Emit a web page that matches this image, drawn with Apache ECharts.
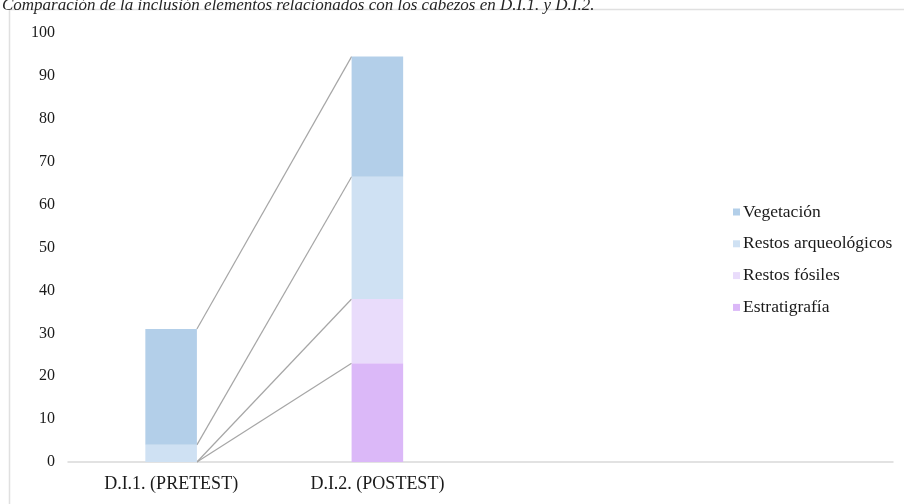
<!DOCTYPE html>
<html>
<head>
<meta charset="utf-8">
<script src="https://cdn.jsdelivr.net/npm/echarts@6/dist/echarts.min.js"></script>
<style>html,body{margin:0;padding:0;background:#fff}#c{width:904px;height:504px}</style>
</head>
<body>
<div id="c"></div>
<script>
var titleText = 'Comparación de la inclusión elementos relacionados con los cabezos en D.I.1. y D.I.2.';
var categories = ['D.I.1. (PRETEST)', 'D.I.2. (POSTEST)', '', ''];
var yTicks = [0, 10, 20, 30, 40, 50, 60, 70, 80, 90, 100];
var estratigrafia = [0, 23];
var restosFosiles = [0, 15];
var restosArqueologicos = [4, 28.5];
var vegetacion = [27, 28];
var seriesNames = ['Estratigrafía', 'Restos fósiles', 'Restos arqueológicos', 'Vegetación'];
var seriesValues = [estratigrafia, restosFosiles, restosArqueologicos, vegetacion];
var colors = ['#dbb8f8', '#e9dcfb', '#cfe1f3', '#b3cfe9'];

var chart = echarts.init(document.getElementById('c'));
var FONT = '"Liberation Serif", "Times New Roman", serif';

var cum = [0, 0];
var lineData = [];
seriesValues.forEach(function (vals) {
  cum = [cum[0] + vals[0], cum[1] + vals[1]];
  lineData.push([0, cum[0], 1, cum[1]]);
});

var series = seriesValues.map(function (vals, i) {
  return {
    name: seriesNames[i],
    type: 'bar',
    stack: 'total',
    barWidth: '25%',
    itemStyle: { color: colors[i] },
    data: vals,
    silent: true
  };
});

series.push({
  type: 'custom',
  silent: true,
  encode: { x: [0, 2], y: [1, 3] },
  data: lineData,
  renderItem: function (params, api) {
    var p0 = api.coord([api.value(0), api.value(1)]);
    var p1 = api.coord([api.value(2), api.value(3)]);
    var half = api.size([1, 0])[0] * 0.25 / 2;
    return {
      type: 'line',
      shape: { x1: p0[0] + half, y1: p0[1], x2: p1[0] - half, y2: p1[1] },
      style: { stroke: '#a6a6a6', lineWidth: 1.2 }
    };
  },
  z: 1
});

chart.setOption({
  animation: false,
  backgroundColor: '#ffffff',
  title: {
    text: titleText,
    left: -3,
    top: -8,
    textStyle: { fontFamily: FONT, fontStyle: 'italic', fontWeight: 'normal', fontSize: 17, color: '#262626' }
  },
  graphic: [{
    type: 'rect',
    shape: { x: 9.5, y: 9.5, width: 910, height: 520 },
    style: { fill: null, stroke: '#e0e0e0', lineWidth: 1.5 },
    silent: true
  }],
  legend: {
    orient: 'vertical',
    left: 728,
    top: 198,
    itemWidth: 7,
    itemHeight: 7,
    itemGap: 13.8,
    icon: 'rect',
    data: ['Vegetación', 'Restos arqueológicos', 'Restos fósiles', 'Estratigrafía'],
    textStyle: { fontFamily: FONT, fontSize: 17.5, color: '#1a1a1a', padding: [0, 0, 0, -2] }
  },
  grid: { left: 68, right: 11, top: 33, bottom: 42 },
  xAxis: {
    type: 'category',
    data: categories,
    axisLine: { lineStyle: { color: '#d9d9d9', width: 1.5 } },
    axisTick: { show: false },
    axisLabel: { fontFamily: FONT, fontSize: 18, color: '#1a1a1a', margin: 13, interval: 0 }
  },
  yAxis: {
    type: 'value',
    min: yTicks[0],
    max: yTicks[yTicks.length - 1],
    interval: yTicks[1] - yTicks[0],
    axisLine: { show: false },
    axisTick: { show: false },
    splitLine: { show: false },
    axisLabel: { fontFamily: FONT, fontSize: 16, color: '#1a1a1a', margin: 13 }
  },
  series: series
});
</script>
</body>
</html>
